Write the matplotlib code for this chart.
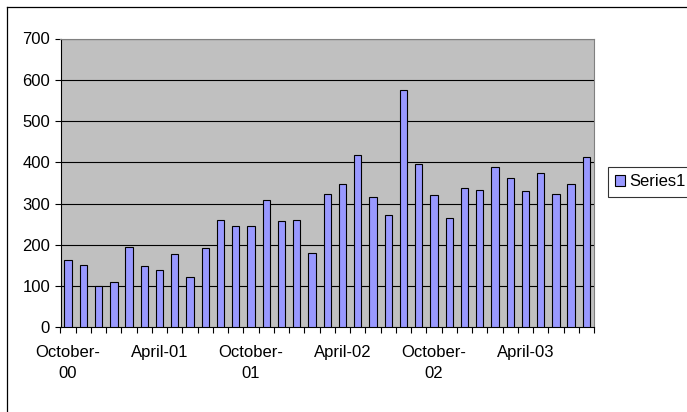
import matplotlib
matplotlib.use("Agg")
import matplotlib.pyplot as plt
from matplotlib.lines import Line2D

values = [163, 152, 100, 111, 195, 148, 140, 177, 123, 191,
          260, 246, 246, 308, 257, 260, 181, 323, 347, 417,
          315, 272, 576, 395, 320, 264, 338, 333, 388, 362,
          330, 373, 323, 348, 413]
tick_labels = ["October-\n00", "April-01", "October-\n01", "April-02", "October-\n02", "April-03"]
tick_idx = [0, 6, 12, 18, 24, 30]
yticks = [0, 100, 200, 300, 400, 500, 600, 700]

plt.rcParams['font.family'] = ['Liberation Sans', 'DejaVu Sans']
W, H = 687, 412
fig = plt.figure(figsize=(W/100, H/100), dpi=100)
ax = fig.add_axes([60.5/W, 1-327.3/H, (594-60.5)/W, (327.3-38.5)/H])

x = list(range(len(values)))
ax.bar(x, values, width=0.48, color='#9999FF', edgecolor='black', linewidth=0.8,
       label='Series1', zorder=3)
ax.set_facecolor('#C0C0C0')
ax.set_xlim(-0.5, len(values)-0.5)
ax.set_ylim(0, 700)
ax.set_yticks(yticks)
ax.set_yticklabels([str(v) for v in yticks], fontsize=12)
for v in yticks[1:]:
    ax.axhline(v, color='black', linewidth=0.8, zorder=1)

ax.set_xticks([i - 0.5 for i in range(len(values)+1)])
ax.set_xticklabels([])
ax.set_xticks(tick_idx, minor=True)
ax.set_xticklabels(tick_labels, minor=True, fontsize=12, va='top', linespacing=1.45)
ax.tick_params(axis='x', which='minor', length=0, pad=13)
ax.tick_params(axis='x', which='major', length=4.5, width=0.8, direction='out')
ax.tick_params(axis='y', length=4, width=0.8, direction='out', pad=3.5)

for s in ['left', 'bottom']:
    ax.spines[s].set_color('black')
    ax.spines[s].set_linewidth(0.8)
for s in ['top', 'right']:
    ax.spines[s].set_color('#808080')
    ax.spines[s].set_linewidth(0.8)

leg = ax.legend(loc='upper left', bbox_to_anchor=(607.7/W, 1-166.7/H), bbox_transform=fig.transFigure,
                frameon=True, fancybox=False, fontsize=12, handlelength=0.57, handleheight=0.7,
                handletextpad=0.3, borderpad=0.45, borderaxespad=0)
leg.get_frame().set_edgecolor('black')
leg.get_frame().set_linewidth(0.8)

fig.add_artist(Line2D([6.5/W, 6.5/W], [0, 1-6.5/H], transform=fig.transFigure,
                      color='black', linewidth=0.9))
fig.add_artist(Line2D([6.5/W, 1], [1-6.5/H, 1-6.5/H], transform=fig.transFigure,
                      color='black', linewidth=0.9))

fig.savefig('out.png', dpi=100)
